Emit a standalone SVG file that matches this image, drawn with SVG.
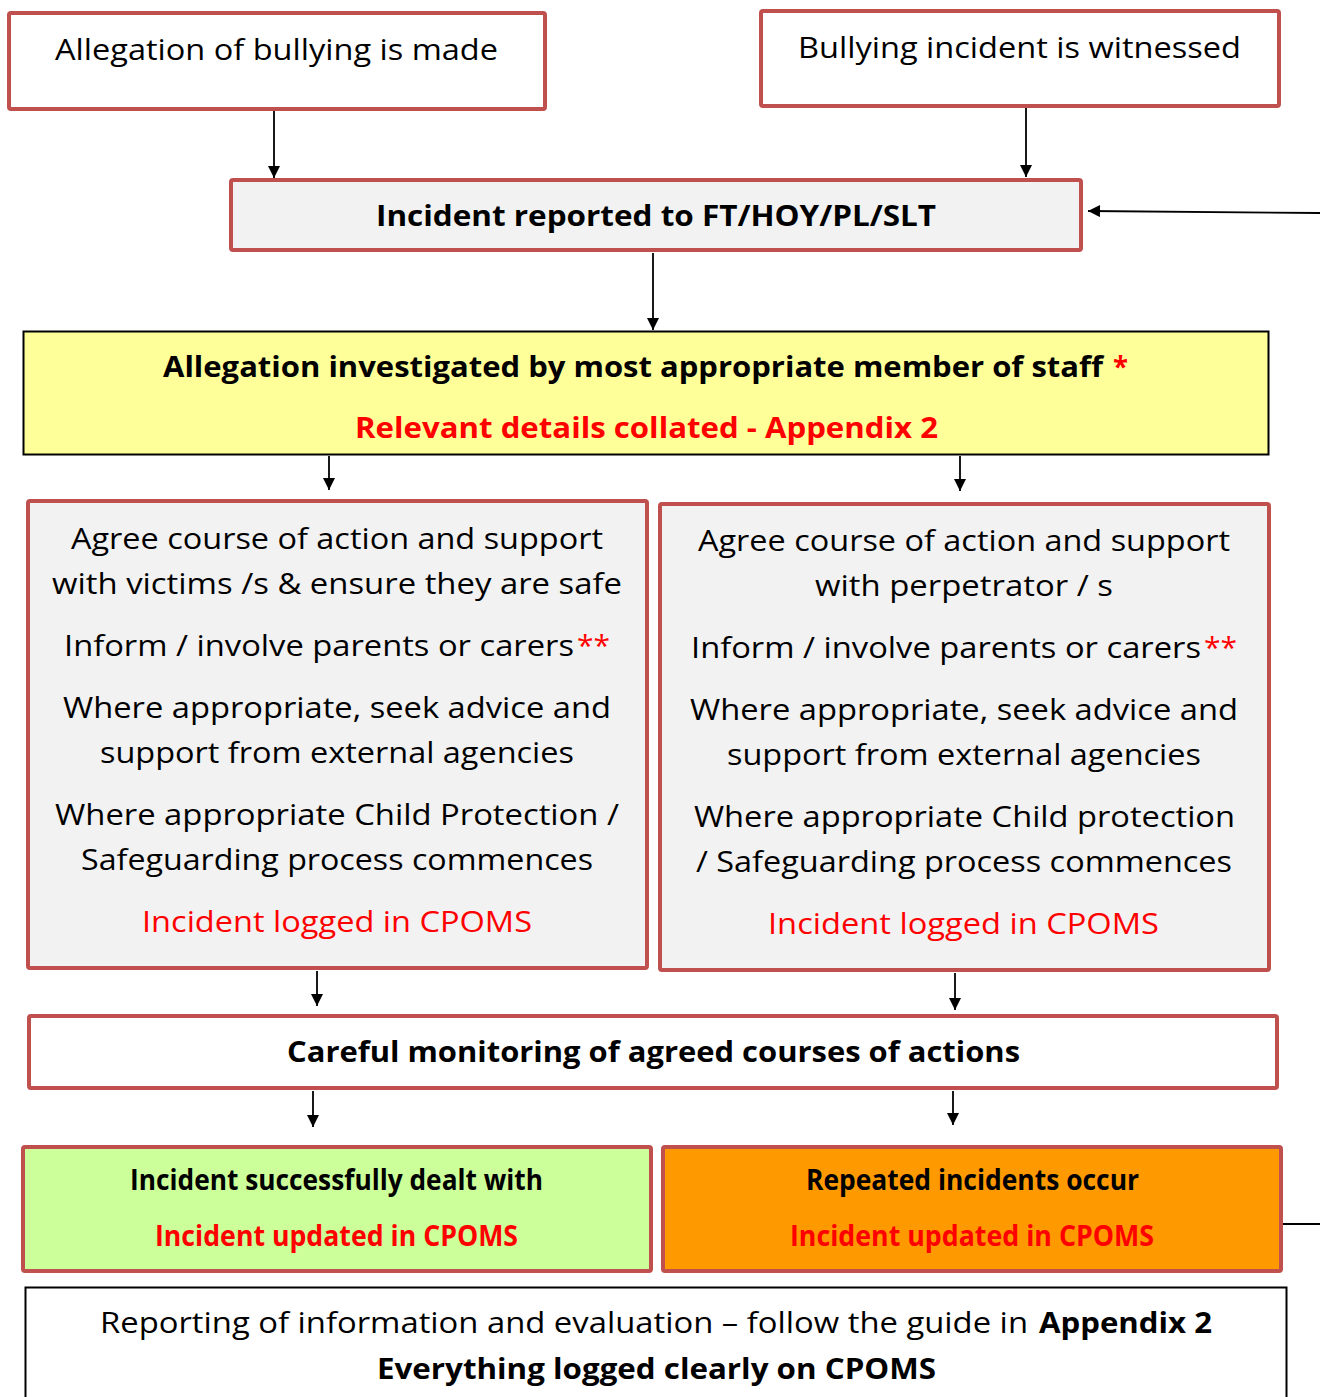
<svg xmlns="http://www.w3.org/2000/svg" width="1320" height="1397" viewBox="0 0 1320 1397">
<style>
.box{stroke:#c0504d;stroke-width:4}
.t{font-family:"Open Sans","Liberation Sans",sans-serif;font-size:29px;fill:#000}
.b{font-weight:bold}
.r{fill:#ff0000}
.c{stroke:#000;stroke-width:1.8;fill:none}
</style>
<defs>
<marker id="ah" viewBox="0 0 10 10" refX="10" refY="5" markerWidth="13" markerHeight="12" markerUnits="userSpaceOnUse" orient="auto">
<path d="M0,0 L10,5 L0,10 Z" fill="#000"/>
</marker>
</defs>

<g id="connectors">
<line class="c" x1="274" y1="111" x2="274" y2="178" marker-end="url(#ah)"/>
<line class="c" x1="1026" y1="108" x2="1026" y2="177" marker-end="url(#ah)"/>
<line class="c" x1="1320" y1="213" x2="1088" y2="211" marker-end="url(#ah)"/>
<line class="c" x1="653" y1="253" x2="653" y2="330" marker-end="url(#ah)"/>
<line class="c" x1="329" y1="456" x2="329" y2="490" marker-end="url(#ah)"/>
<line class="c" x1="960" y1="456" x2="960" y2="491" marker-end="url(#ah)"/>
<line class="c" x1="317" y1="971" x2="317" y2="1006" marker-end="url(#ah)"/>
<line class="c" x1="955" y1="973" x2="955" y2="1010" marker-end="url(#ah)"/>
<line class="c" x1="313" y1="1091" x2="313" y2="1127" marker-end="url(#ah)"/>
<line class="c" x1="953" y1="1091" x2="953" y2="1125" marker-end="url(#ah)"/>
<line class="c" x1="1282" y1="1224" x2="1320" y2="1224"/>
</g>

<g id="allegation-made">
<rect class="box" x="9" y="13" width="536" height="96" rx="2" fill="#fff"/>
<text class="t" x="55" y="60" textLength="443" lengthAdjust="spacingAndGlyphs">Allegation of bullying is made</text>
</g>

<g id="incident-witnessed">
<rect class="box" x="761" y="11" width="518" height="95" rx="2" fill="#fff"/>
<text class="t" x="798" y="58" textLength="443" lengthAdjust="spacingAndGlyphs">Bullying incident is witnessed</text>
</g>

<g id="incident-reported">
<rect class="box" x="231" y="180" width="850" height="70" rx="2" fill="#f2f2f2"/>
<text class="t b" x="376" y="226" textLength="560" lengthAdjust="spacingAndGlyphs">Incident reported to FT/HOY/PL/SLT</text>
</g>

<g id="investigated">
<rect x="23.5" y="331.5" width="1245" height="123" fill="#ffff99" stroke="#000" stroke-width="2"/>
<text class="t b" x="163" y="377" font-size="32" textLength="940" lengthAdjust="spacingAndGlyphs">Allegation investigated by most appropriate member of staff</text>
<text class="t b r" x="1113" y="377" font-size="32" textLength="15" lengthAdjust="spacingAndGlyphs">*</text>
<text class="t b r" x="355" y="438" font-size="32" textLength="583" lengthAdjust="spacingAndGlyphs">Relevant details collated - Appendix 2</text>
</g>

<g id="victims">
<rect class="box" x="28" y="501" width="619" height="467" rx="2" fill="#f2f2f2"/>
<text class="t" x="71" y="549" textLength="532" lengthAdjust="spacingAndGlyphs">Agree course of action and support</text>
<text class="t" x="52" y="594" textLength="570" lengthAdjust="spacingAndGlyphs">with victims /s &amp; ensure they are safe</text>
<text class="t" x="64" y="656" textLength="510" lengthAdjust="spacingAndGlyphs">Inform / involve parents or carers</text>
<text class="t r" x="577" y="656" textLength="33" lengthAdjust="spacingAndGlyphs">**</text>
<text class="t" x="63" y="718" textLength="548" lengthAdjust="spacingAndGlyphs">Where appropriate, seek advice and</text>
<text class="t" x="100" y="763" textLength="474" lengthAdjust="spacingAndGlyphs">support from external agencies</text>
<text class="t" x="55" y="825" textLength="564" lengthAdjust="spacingAndGlyphs">Where appropriate Child Protection /</text>
<text class="t" x="81" y="870" textLength="512" lengthAdjust="spacingAndGlyphs">Safeguarding process commences</text>
<text class="t r" x="142" y="932" textLength="390" lengthAdjust="spacingAndGlyphs">Incident logged in CPOMS</text>
</g>

<g id="perpetrators">
<rect class="box" x="660" y="504" width="609" height="466" rx="2" fill="#f2f2f2"/>
<text class="t" x="698" y="551" textLength="532" lengthAdjust="spacingAndGlyphs">Agree course of action and support</text>
<text class="t" x="815" y="596" textLength="298" lengthAdjust="spacingAndGlyphs">with perpetrator / s</text>
<text class="t" x="691" y="658" textLength="510" lengthAdjust="spacingAndGlyphs">Inform / involve parents or carers</text>
<text class="t r" x="1204" y="658" textLength="33" lengthAdjust="spacingAndGlyphs">**</text>
<text class="t" x="690" y="720" textLength="548" lengthAdjust="spacingAndGlyphs">Where appropriate, seek advice and</text>
<text class="t" x="727" y="765" textLength="474" lengthAdjust="spacingAndGlyphs">support from external agencies</text>
<text class="t" x="694" y="827" textLength="541" lengthAdjust="spacingAndGlyphs">Where appropriate Child protection</text>
<text class="t" x="696" y="872" textLength="536" lengthAdjust="spacingAndGlyphs">/ Safeguarding process commences</text>
<text class="t r" x="768" y="934" textLength="391" lengthAdjust="spacingAndGlyphs">Incident logged in CPOMS</text>
</g>

<g id="monitoring">
<rect class="box" x="29" y="1016" width="1248" height="72" rx="2" fill="#fff"/>
<text class="t b" x="287" y="1062" textLength="733" lengthAdjust="spacingAndGlyphs">Careful monitoring of agreed courses of actions</text>
</g>

<g id="dealt-with">
<rect class="box" x="23" y="1147" width="628" height="124" rx="2" fill="#ccff99"/>
<text class="t b" x="130" y="1190" font-size="26" textLength="413" lengthAdjust="spacingAndGlyphs">Incident successfully dealt with</text>
<text class="t b r" x="155" y="1246" font-size="26" textLength="363" lengthAdjust="spacingAndGlyphs">Incident updated in CPOMS</text>
</g>

<g id="repeated">
<rect class="box" x="663" y="1147" width="618" height="124" rx="2" fill="#ff9900"/>
<text class="t b" x="806" y="1190" font-size="26" textLength="333" lengthAdjust="spacingAndGlyphs">Repeated incidents occur</text>
<text class="t b r" x="790" y="1246" font-size="26" textLength="364" lengthAdjust="spacingAndGlyphs">Incident updated in CPOMS</text>
</g>

<g id="reporting">
<rect x="25.5" y="1287.5" width="1261" height="130" fill="#fff" stroke="#000" stroke-width="2"/>
<text class="t" x="100" y="1333" textLength="928" lengthAdjust="spacingAndGlyphs">Reporting of information and evaluation – follow the guide in</text>
<text class="t b" x="1039" y="1333" textLength="173" lengthAdjust="spacingAndGlyphs">Appendix 2</text>
<text class="t b" x="377" y="1379" textLength="559" lengthAdjust="spacingAndGlyphs">Everything logged clearly on CPOMS</text>
</g>
</svg>
